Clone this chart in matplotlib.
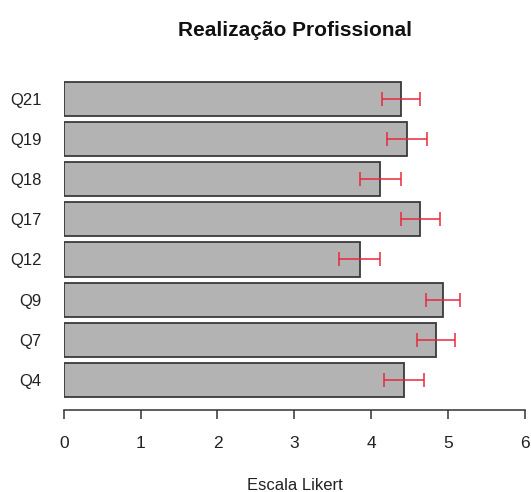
import matplotlib.pyplot as plt
import numpy as np

plt.rcParams['font.family'] = ['Liberation Sans', 'DejaVu Sans']

# Item means and error (from bottom to top)
items = ['Q4', 'Q7', 'Q9', 'Q12', 'Q17', 'Q18', 'Q19', 'Q21']
means = [4.42, 4.84, 4.93, 3.85, 4.64, 4.12, 4.46, 4.39]
errors = [0.26, 0.25, 0.22, 0.27, 0.25, 0.27, 0.26, 0.25]
xticks = [0, 1, 2, 3, 4, 5, 6]

fig = plt.figure(figsize=(5.31, 4.92), dpi=100)
ax = fig.add_axes([0.12, 0.1667, 0.8687, 0.6735])

pos = np.arange(len(items))
ax.barh(pos, means, height=0.85, color='#b3b3b3', edgecolor='#3a3a3a', linewidth=1.3)
ax.errorbar(means, pos, xerr=errors, fmt='none', ecolor='#e8283c',
            elinewidth=1.1, capsize=5, capthick=1.1)

ax.set_xlim(0, 6)
ax.set_ylim(-0.746, 7.5)
ax.set_xticks(xticks)
ax.set_yticks(pos)
ax.set_yticklabels(items)

for side in ['top', 'right', 'left']:
    ax.spines[side].set_visible(False)
ax.spines['bottom'].set_color('#333333')
ax.spines['bottom'].set_linewidth(1.1)

ax.tick_params(axis='x', length=6.5, width=1.1, color='#333333', pad=12,
               labelsize=12.5, labelcolor='#222222')
ax.tick_params(axis='y', length=0, pad=16, labelsize=12, labelcolor='#222222')

fig.text(0.556, 0.937, 'Realização Profissional', ha='center', va='center',
         fontsize=15, fontweight='bold', color='#111111')
fig.text(0.556, 0.013, 'Escala Likert', ha='center', va='center',
         fontsize=12, color='#222222')

fig.savefig('out.png', dpi=100)
